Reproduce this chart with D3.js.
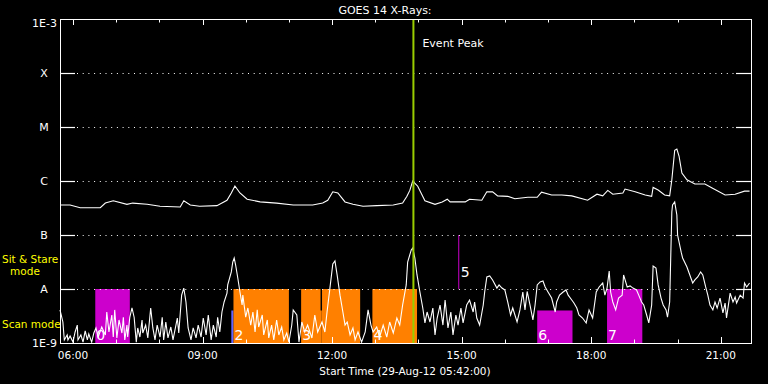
<!DOCTYPE html>
<html>
<head>
<meta charset="utf-8">
<script src="https://cdn.jsdelivr.net/npm/d3@7"></script>
<style>
  html, body { margin: 0; padding: 0; background: #000; }
  svg { display: block; font-family: "DejaVu Sans", sans-serif; }
</style>
</head>
<body>
<svg id="chart" width="768" height="384"></svg>
<script>
const startTime = "2012-08-29 05:42";
const endTime = "2012-08-29 21:42";
const eventPeak = "13:53";

const classLabels = ["1E-9", "A", "B", "C", "M", "X", "1E-3"];
const classFlux = [1e-9, 1e-8, 1e-7, 1e-6, 1e-5, 1e-4, 1e-3];
const xTickLabels = ["06:00", "09:00", "12:00", "15:00", "18:00", "21:00"];

// [minutes after start, W/m^2]
const longChannel = [
  [0,3.6e-7],[14,3.6e-7],[28,3.2e-7],[56,3.2e-7],[63,3.9e-7],[74,4.3e-7],[93,3.7e-7],[101,3.9e-7],
  [121,3.7e-7],[139,3.4e-7],[167,3.3e-7],[172,4.3e-7],[181,3.6e-7],[194,3.4e-7],[218,3.5e-7],
  [232,4.4e-7],[238,6.0e-7],[243,8.1e-7],[250,6.0e-7],[260,4.6e-7],[278,4.1e-7],[301,3.9e-7],
  [324,3.6e-7],[351,3.6e-7],[365,3.9e-7],[372,4.4e-7],[379,6.3e-7],[386,6.0e-7],[396,4.1e-7],
  [407,3.7e-7],[421,3.4e-7],[440,3.5e-7],[463,3.6e-7],[476,3.9e-7],[482,5.2e-7],[486,6.7e-7],
  [490,1.0e-6],[497,8.0e-7],[507,4.3e-7],[521,3.7e-7],[531,4.1e-7],[538,4.6e-7],[542,4.1e-7],
  [563,4.1e-7],[569,4.6e-7],[586,4.4e-7],[593,6.3e-7],[601,6.3e-7],[608,5.3e-7],[622,5.2e-7],
  [632,4.7e-7],[650,5.0e-7],[663,5.0e-7],[669,6.2e-7],[683,5.5e-7],[697,5.5e-7],[711,5.3e-7],
  [733,4.4e-7],[746,5.7e-7],[754,5.3e-7],[761,6.7e-7],[768,5.7e-7],[782,6.0e-7],[785,7.1e-7],
  [799,6.3e-7],[813,5.5e-7],[822,5.2e-7],[824,7.6e-7],[831,6.8e-7],[840,5.5e-7],[847,5.3e-7],
  [850,1.05e-6],[854,3.7e-6],[857,3.9e-6],[860,2.9e-6],[864,1.4e-6],[871,1.05e-6],[882,8.8e-7],
  [896,8.8e-7],[906,7.4e-7],[924,5.5e-7],[938,5.7e-7],[951,6.5e-7],[958,6.5e-7]
];

const shortChannel = [
  [0,4.1e-9],[4,2.45e-9],[6,1.14e-9],[10,1.41e-9],[11,1.14e-9],[14,1.35e-9],[18,1.04e-9],[21,1.6e-9],
  [24,2.15e-9],[25,1.14e-9],[29,1.41e-9],[32,1.04e-9],[35,1.67e-9],[38,1.14e-9],[40,1.47e-9],
  [44,1.04e-9],[47,1.53e-9],[50,1.9e-9],[53,1.29e-9],[58,1.98e-9],[63,1.41e-9],[65,3.75e-9],
  [68,1.6e-9],[72,3.3e-9],[74,1.29e-9],[76,4.1e-9],[79,1.24e-9],[82,2.67e-9],[86,1.53e-9],
  [88,3.0e-9],[90,1.14e-9],[93,2.15e-9],[94,1.29e-9],[97,3.0e-9],[100,4.45e-9],[103,3.0e-9],
  [106,1.04e-9],[108,1.9e-9],[111,1.29e-9],[114,2.67e-9],[115,1.53e-9],[119,2.15e-9],[122,1.24e-9],
  [126,4.45e-9],[129,1.9e-9],[132,1.14e-9],[135,2.15e-9],[139,1.29e-9],[142,3.0e-9],[144,1.14e-9],
  [147,2.45e-9],[150,1.24e-9],[154,1.98e-9],[157,1.14e-9],[163,2.9e-9],[165,1.53e-9],[169,7.7e-9],
  [172,1.04e-8],[175,5.75e-9],[178,1.9e-9],[182,1.14e-9],[185,1.9e-9],[189,1.24e-9],[192,2.15e-9],
  [196,1.29e-9],[199,2.9e-9],[203,1.41e-9],[206,3.3e-9],[210,1.14e-9],[213,2.15e-9],[217,1.29e-9],
  [219,3.0e-9],[222,1.6e-9],[225,3.75e-9],[228,5.75e-9],[232,8.4e-9],[233,1.19e-8],[238,2.07e-8],
  [240,3.16e-8],[242,3.75e-8],[244,2.78e-8],[247,1.6e-8],[250,8.8e-9],[253,5.05e-9],[254,7.7e-9],
  [258,3.0e-9],[261,4.45e-9],[265,2.15e-9],[268,3.75e-9],[271,1.6e-9],[274,4.1e-9],[276,1.98e-9],
  [281,3.3e-9],[283,1.41e-9],[288,2.67e-9],[290,1.24e-9],[294,2.15e-9],[297,1.14e-9],[301,2.67e-9],
  [304,1.41e-9],[308,1.98e-9],[311,1.14e-9],[315,1.53e-9],[318,1.04e-9],[322,2.15e-9],
  [324,4.1e-9],[329,3.3e-9],[332,1.04e-9],[336,2.45e-9],[340,1.6e-9],[344,2.15e-9],[350,1.24e-9],
  [354,3.3e-9],[358,1.6e-9],[364,2.45e-9],[368,1.6e-9],[371,3.75e-9],[375,1.04e-8],[379,2.9e-8],
  [382,3.3e-8],[385,1.82e-8],[389,7.7e-9],[393,3.75e-9],[396,2.15e-9],[399,2.45e-9],[403,1.41e-9],
  [407,1.9e-9],[410,1.14e-9],[414,1.6e-9],[419,1.04e-9],[424,1.6e-9],[428,4.1e-9],[432,2.15e-9],
  [435,1.6e-9],[440,1.98e-9],[444,1.29e-9],[449,2.15e-9],[454,1.29e-9],[458,2.45e-9],[463,1.53e-9],
  [468,2.9e-9],[472,2.15e-9],[476,5.05e-9],[481,1.19e-8],[483,3.16e-8],[488,5.3e-8],[490,5.75e-8],
  [493,3.75e-8],[496,1.82e-8],[500,8.8e-9],[504,4.45e-9],[507,2.35e-9],[510,3.75e-9],[514,2.45e-9],
  [518,4.45e-9],[521,1.41e-9],[524,2.9e-9],[528,5.05e-9],[532,2.15e-9],[535,6.25e-9],[539,1.9e-9],
  [543,3.75e-9],[546,1.41e-9],[550,3.3e-9],[553,2.15e-9],[557,4.45e-9],[560,2.35e-9],[565,5.05e-9],
  [569,6.25e-9],[574,3.75e-9],[576,5.75e-9],[579,2.9e-9],[583,2.15e-9],[588,5.05e-9],[590,8.8e-9],
  [593,1.67e-8],[597,1.74e-8],[601,1.47e-8],[607,1.04e-8],[610,1.19e-8],[614,1.04e-8],[618,9.6e-9],
  [622,5.75e-9],[626,3.3e-9],[629,4.45e-9],[635,2.45e-9],[639,4.1e-9],[643,8.8e-9],
  [646,4.1e-9],[649,9.0e-9],[653,5.05e-9],[657,2.67e-9],[660,5.05e-9],[663,1.19e-8],[667,1.35e-8],
  [671,1.41e-8],[674,1.09e-8],[678,8.8e-9],[683,6.8e-9],[688,3.75e-9],[690,5.75e-9],[694,7.7e-9],
  [699,8.8e-9],[703,9.6e-9],[706,7.7e-9],[711,6.25e-9],[714,5.5e-9],[718,4.45e-9],[721,3.3e-9],
  [726,2.9e-9],[731,2.35e-9],[735,4.1e-9],[740,2.9e-9],[745,8.8e-9],[749,1.09e-8],[754,1.29e-8],
  [757,7.7e-9],[760,1.04e-8],[763,2.15e-8],[765,8.8e-9],[768,5.75e-9],[772,4.1e-9],[776,6.8e-9],
  [781,7.7e-9],[783,1.82e-8],[788,1.09e-8],[792,1.14e-8],[796,1.04e-8],[801,9.6e-9],[804,7.7e-9],
  [808,5.75e-9],[811,5.05e-9],[815,3.3e-9],[818,2.35e-9],[822,5.05e-9],[824,2.67e-8],[828,2.45e-8],
  [831,1.19e-8],[835,6.8e-9],[838,5.05e-9],[842,4.1e-9],[844,3.0e-9],[847,5.75e-9],[850,2.67e-7],
  [851,3.6e-7],[854,4.1e-7],[857,2.35e-7],[858,1.0e-7],[863,4.8e-8],[865,3.75e-8],[871,2.55e-8],
  [875,1.82e-8],[879,1.29e-8],[882,1.47e-8],[886,1.67e-8],[890,2.07e-8],[893,1.82e-8],[897,1.09e-8],
  [900,7.7e-9],[903,5.05e-9],[907,4.1e-9],[910,5.75e-9],[913,4.45e-9],[917,6.8e-9],[921,3.6e-9],
  [924,5.5e-9],[926,2.9e-9],[931,8.4e-9],[935,5.75e-9],[938,7.1e-9],[940,5.5e-9],[945,7.7e-9],
  [949,6.8e-9],[951,1.29e-8],[954,1.09e-8],[958,1.29e-8]
];

// observing blocks
const blockLabels = ["0", "", "2", "3", "", "4", "6", "7"];
const blockStart = ["06:31", "09:40", "09:43", "11:17", "11:45", "12:56", "16:45", "18:22"];
const blockEnd   = ["07:19", "09:43", "11:00", "11:45", "12:39", "13:58", "17:34", "19:11"];
const blockTop   = [1e-8, 4e-9, 1e-8, 1e-8, 1e-8, 1e-8, 4e-9, 1e-8];
const blockMode  = ["stare", "other", "scan", "scan", "scan", "scan", "stare", "stare"];
const dividers = [{ time: "11:45", low: 4e-9, high: 1e-8 }];
const marker = { label: "5", time: "14:56", low: 1e-8, high: 1e-7, labelAt: 2e-8 };

const modeColor = { stare: "#cc00cc", scan: "#ff8000", other: "#6464ff" };

const svg = d3.select("#chart");
const W = 768, H = 384;
const mLeft = 60, mRight = 751, mTop = 19, mBottom = 343;

const parse = d3.timeParse("%Y-%m-%d %H:%M");
const t0 = parse(startTime), t1 = parse(endTime);
const clock = s => parse("2012-08-29 " + s);
const fromStart = m => d3.timeMinute.offset(t0, m);

const x = d3.scaleTime().domain([t0, t1]).range([mLeft, mRight]);
const y = d3.scaleLog().domain([1e-9, 1e-3]).range([mBottom, mTop]);

svg.append("rect").attr("width", W).attr("height", H).attr("fill", "#000");

// blocks
const blocks = blockStart.map((s, i) => ({
  label: blockLabels[i], start: clock(s), end: clock(blockEnd[i]), top: blockTop[i], mode: blockMode[i]
}));
svg.append("g").selectAll("rect").data(blocks).enter().append("rect")
  .attr("x", d => x(d.start))
  .attr("y", d => y(d.top))
  .attr("width", d => x(d.end) - x(d.start))
  .attr("height", d => y(1e-9) - y(d.top))
  .attr("fill", d => modeColor[d.mode]);

svg.append("g").selectAll("line").data(dividers).enter().append("line")
  .attr("x1", d => x(clock(d.time))).attr("x2", d => x(clock(d.time)))
  .attr("y1", d => y(d.low)).attr("y2", d => y(d.high))
  .attr("stroke", "#000").attr("stroke-width", 1.5);

svg.append("g").selectAll("text").data(blocks.filter(d => d.label)).enter().append("text")
  .attr("x", d => x(d.start) + 1)
  .attr("y", mBottom - 3)
  .attr("fill", "#fff")
  .attr("font-size", 14)
  .text(d => d.label);

// marker 5
svg.append("line")
  .attr("x1", x(clock(marker.time))).attr("x2", x(clock(marker.time)))
  .attr("y1", y(marker.low)).attr("y2", y(marker.high))
  .attr("stroke", "#cc00cc").attr("stroke-width", 1);
svg.append("text")
  .attr("x", x(clock(marker.time)) + 2)
  .attr("y", y(marker.labelAt) + 4)
  .attr("fill", "#fff").attr("font-size", 14)
  .text(marker.label);

// dotted class grid
const gridFlux = classFlux.slice(1, -1);
svg.append("g").selectAll("line").data(gridFlux).enter().append("line")
  .attr("x1", mLeft + 17).attr("x2", mRight - 16)
  .attr("y1", d => Math.round(y(d)) + 0.5).attr("y2", d => Math.round(y(d)) + 0.5)
  .attr("stroke", "#fff").attr("stroke-dasharray", "1,4.7");

// traces
const line = d3.line().x(d => x(fromStart(d[0]))).y(d => y(d[1]));
svg.append("path").datum(shortChannel).attr("d", line)
  .attr("fill", "none").attr("stroke", "#fff").attr("stroke-width", 1.1);
svg.append("path").datum(longChannel).attr("d", line)
  .attr("fill", "none").attr("stroke", "#fff").attr("stroke-width", 1.1);

// event peak
const ex = x(clock(eventPeak));
svg.append("line").attr("x1", ex).attr("x2", ex).attr("y1", mTop).attr("y2", mBottom)
  .attr("stroke", "#99cc00").attr("stroke-width", 2);
svg.append("text").attr("x", ex + 9).attr("y", 47).attr("fill", "#fff")
  .attr("font-size", 11).text("Event Peak");

// frame
svg.append("rect").attr("x", mLeft + 0.5).attr("y", mTop + 0.5)
  .attr("width", mRight - mLeft).attr("height", mBottom - mTop)
  .attr("fill", "none").attr("stroke", "#fff").attr("stroke-width", 1);

// y class ticks
const yt = svg.append("g").attr("stroke", "#fff").attr("stroke-width", 1.2);
gridFlux.forEach(f => {
  const yy = Math.round(y(f)) + 0.5;
  yt.append("line").attr("x1", mLeft).attr("x2", mLeft + 15).attr("y1", yy).attr("y2", yy);
  yt.append("line").attr("x1", mRight - 15).attr("x2", mRight).attr("y1", yy).attr("y2", yy);
});

// x ticks, top and bottom
const hours = x.ticks(d3.timeHour.every(1));
const major = new Set(x.ticks(d3.timeHour.every(3)).map(d => +d));
const xt = svg.append("g").attr("stroke", "#fff").attr("stroke-width", 1);
hours.forEach(h => {
  const xx = Math.round(x(h)) + 0.5;
  const len = major.has(+h) ? 6 : 3.5;
  xt.append("line").attr("x1", xx).attr("x2", xx).attr("y1", mTop).attr("y2", mTop + len);
  xt.append("line").attr("x1", xx).attr("x2", xx).attr("y1", mBottom).attr("y2", mBottom - len);
});

svg.append("g").selectAll("text").data(xTickLabels).enter().append("text")
  .attr("x", d => x(clock(d)))
  .attr("y", 359)
  .attr("text-anchor", "middle")
  .attr("fill", "#fff").attr("font-size", 10.5)
  .text(d => d);

// class labels
svg.append("g").selectAll("text").data(classLabels).enter().append("text")
  .attr("x", d => d.length > 1 ? 57 : 44)
  .attr("y", (d, i) => y(classFlux[i]) + 4 + (i === classLabels.length - 1 ? 4 : 0))
  .attr("text-anchor", d => d.length > 1 ? "end" : "middle")
  .attr("fill", "#fff").attr("font-size", 11)
  .text(d => d);

// mode labels
const modeText = svg.append("g").attr("fill", "#ffff00").attr("font-size", 10.5);
modeText.append("text").attr("x", 2).attr("y", 263).text("Sit & Stare");
modeText.append("text").attr("x", 25).attr("y", 275).attr("text-anchor", "middle").text("mode");
modeText.append("text").attr("x", 2).attr("y", 328).text("Scan mode");

// titles
svg.append("text").attr("x", 385).attr("y", 14).attr("text-anchor", "middle")
  .attr("fill", "#fff").attr("font-size", 11).text("GOES 14 X-Rays:");
svg.append("text").attr("x", 405).attr("y", 375).attr("text-anchor", "middle")
  .attr("fill", "#fff").attr("font-size", 10.5).text("Start Time (29-Aug-12 05:42:00)");
</script>
</body>
</html>
